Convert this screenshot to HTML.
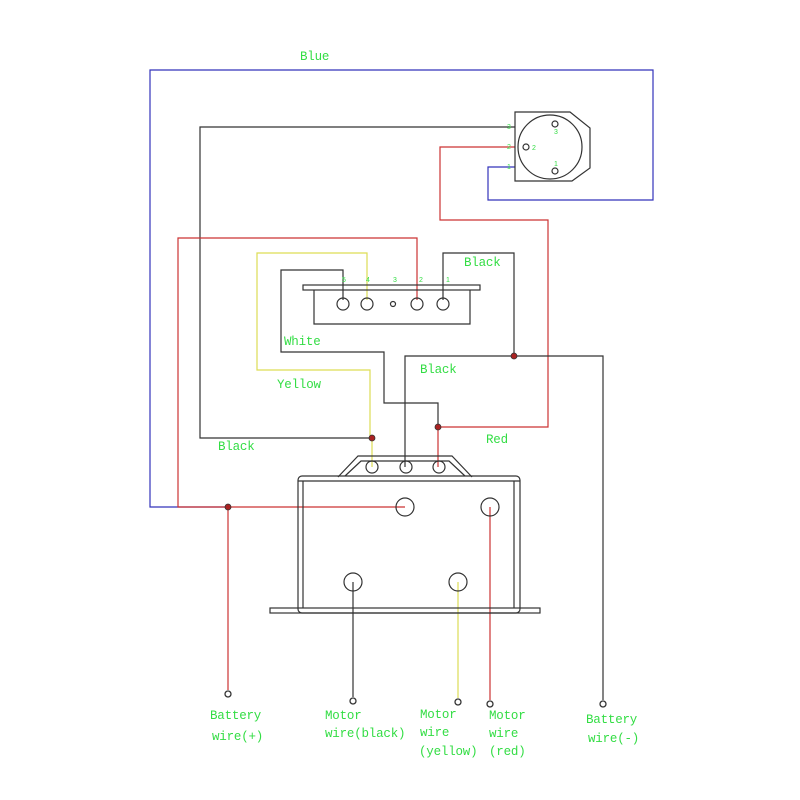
<!DOCTYPE html>
<html><head><meta charset="utf-8"><style>
html,body{margin:0;padding:0;background:#fff;}
svg{display:block;}
text{font-family:"Liberation Mono","Noto Sans CJK SC",monospace;font-size:12.5px;fill:#33dd44;letter-spacing:-0.2px;}
.n{font-size:7px;font-family:"Liberation Sans",sans-serif;}
</style></head><body>
<svg width="800" height="800" viewBox="0 0 800 800" xmlns="http://www.w3.org/2000/svg">
<g fill="none" stroke-width="1.2">
<polyline stroke="#3333bb" points="228,507 150,507 150,70 653,70 653,200 488,200 488,167 515,167"/>
<polyline stroke="#333" points="515,127 200,127 200,438 372,438"/>
<polyline stroke="#cc3333" points="515,147 440,147 440,220 548,220 548,427 438,427 438,467"/>
<polyline stroke="#cc3333" points="417,300 417,238 178,238 178,507 405,507"/>
<line stroke="#cc3333" x1="228" y1="507" x2="228" y2="690"/>
<polyline stroke="#dddd55" points="367,300 367,253 257,253 257,370 370,370 370,438 372,438 372,467"/>
<polyline stroke="#333" points="343,300 343,270 281,270 281,352 384,352 384,403 438,403 438,427"/>
<polyline stroke="#333" points="443,300 443,253 514,253 514,356 603,356 603,700"/>
<polyline stroke="#333" points="514,356 405,356 405,467"/>
<line stroke="#333" x1="353" y1="582" x2="353" y2="697"/>
<line stroke="#dddd55" x1="458" y1="582" x2="458" y2="698"/>
<line stroke="#cc3333" x1="490" y1="507" x2="490" y2="700"/>
</g>
<g fill="#aa2222" stroke="#333" stroke-width="0.8">
<circle cx="372" cy="438" r="3"/><circle cx="438" cy="427" r="3"/>
<circle cx="514" cy="356" r="3"/><circle cx="228" cy="507" r="3"/>
</g>
<g fill="#fff" stroke="#333" stroke-width="1.3">
<circle cx="228" cy="694" r="3"/><circle cx="353" cy="701" r="3"/>
<circle cx="458" cy="702" r="3"/><circle cx="490" cy="704" r="3"/>
<circle cx="603" cy="704" r="3"/>
</g>
<g fill="none" stroke="#333" stroke-width="1.2">
<polygon points="515,112 570,112 590,128 590,168 572,181 515,181"/>
<circle cx="550" cy="147" r="32"/>
<circle cx="555" cy="124" r="3"/><circle cx="526" cy="147" r="3"/><circle cx="555" cy="171" r="3"/>
</g>
<text class="n" x="507" y="129">3</text><text class="n" x="507" y="149">2</text><text class="n" x="507" y="169">1</text>
<text class="n" x="554" y="134">3</text><text class="n" x="532" y="150">2</text><text class="n" x="554" y="166">1</text>
<g fill="none" stroke="#333" stroke-width="1.2">
<rect x="303" y="285" width="177" height="5"/>
<polyline points="314,290 314,324 470,324 470,290"/>
<circle cx="343" cy="304" r="6"/><circle cx="367" cy="304" r="6"/>
<circle cx="393" cy="304" r="2.5"/><circle cx="417" cy="304" r="6"/><circle cx="443" cy="304" r="6"/>
</g>
<text class="n" x="342" y="282">5</text><text class="n" x="366" y="282">4</text><text class="n" x="393" y="282">3</text><text class="n" x="419" y="282">2</text><text class="n" x="446" y="282">1</text>
<g fill="none" stroke="#333" stroke-width="1.2">
<rect x="270" y="608" width="270" height="5"/>
<rect x="298" y="476" width="222" height="137" rx="4"/>
<line x1="303" y1="481" x2="303" y2="608"/><line x1="514" y1="481" x2="514" y2="608"/>
<line x1="298" y1="481" x2="520" y2="481"/>
<polyline points="338,477 358,456 452,456 472,477"/>
<polyline points="345,476 361,461 449,461 465,476"/>
<circle cx="372" cy="467" r="6"/><circle cx="406" cy="467" r="6"/><circle cx="439" cy="467" r="6"/>
<circle cx="405" cy="507" r="9"/><circle cx="490" cy="507" r="9"/>
<circle cx="353" cy="582" r="9"/><circle cx="458" cy="582" r="9"/>
</g>
<text x="300" y="60">Blue</text>
<text x="464" y="266">Black</text>
<text x="284" y="345">White</text>
<text x="420" y="373">Black</text>
<text x="277" y="388">Yellow</text>
<text x="218" y="450">Black</text>
<text x="486" y="443">Red</text>
<text x="210" y="719">Battery</text><text x="212" y="740">wire(+)</text>
<text x="325" y="719">Motor</text><text x="325" y="737">wire(black)</text>
<text x="420" y="718">Motor</text><text x="420" y="736">wire</text><text x="419" y="755">(yellow)</text>
<text x="489" y="719">Motor</text><text x="489" y="737">wire</text><text x="489" y="755">(red)</text>
<text x="586" y="723">Battery</text><text x="588" y="742">wire(-)</text>
</svg>
</body></html>
